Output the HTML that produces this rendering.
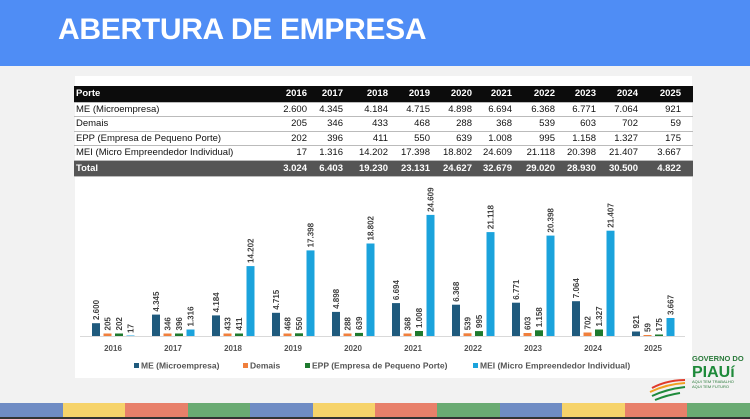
<!DOCTYPE html>
<html><head><meta charset="utf-8"><style>
*{margin:0;padding:0;box-sizing:border-box}
body{width:750px;height:419px;overflow:hidden;background:#f2f2f2;font-family:"Liberation Sans",sans-serif;position:relative}
#hdr{position:absolute;left:0;top:0;width:750px;height:66px;background:#4f8df5}
#hdr h1{position:absolute;left:58px;top:13px;color:#fff;font-size:30px;font-weight:bold;letter-spacing:-0.3px}
#panel{position:absolute;left:75px;top:76px;width:617px;height:302px;background:#fff}
table{position:absolute;left:74px;top:86px;width:619px;border-collapse:collapse;font-size:9.5px;color:#111;table-layout:fixed}
td{height:14.5px;padding:0 2px;text-align:right;border-bottom:1px solid #bbb;white-space:nowrap;overflow:visible}
td:first-child{text-align:left}
td:last-child{padding-right:12px}
tr.h td{background:#0c0c0c;color:#fff;font-weight:bold;height:16px}
tr.t td{background:#555;color:#fff;font-weight:bold;height:16px}
svg{position:absolute;left:0;top:0}
</style></head><body>
<div id="hdr"><h1>ABERTURA DE EMPRESA</h1></div>
<div id="panel"></div>
<table>
<colgroup><col style="width:196px"><col style="width:39px"><col style="width:36px"><col style="width:45px"><col style="width:42px"><col style="width:42px"><col style="width:40px"><col style="width:43px"><col style="width:41px"><col style="width:42px"><col style="width:53px"></colgroup>
<tr class="h"><td>Porte</td><td>2016</td><td>2017</td><td>2018</td><td>2019</td><td>2020</td><td>2021</td><td>2022</td><td>2023</td><td>2024</td><td>2025</td></tr>
<tr><td>ME (Microempresa)</td><td>2.600</td><td>4.345</td><td>4.184</td><td>4.715</td><td>4.898</td><td>6.694</td><td>6.368</td><td>6.771</td><td>7.064</td><td>921</td></tr>
<tr><td>Demais</td><td>205</td><td>346</td><td>433</td><td>468</td><td>288</td><td>368</td><td>539</td><td>603</td><td>702</td><td>59</td></tr>
<tr><td>EPP (Empresa de Pequeno Porte)</td><td>202</td><td>396</td><td>411</td><td>550</td><td>639</td><td>1.008</td><td>995</td><td>1.158</td><td>1.327</td><td>175</td></tr>
<tr><td>MEI (Micro Empreendedor Individual)</td><td>17</td><td>1.316</td><td>14.202</td><td>17.398</td><td>18.802</td><td>24.609</td><td>21.118</td><td>20.398</td><td>21.407</td><td>3.667</td></tr>
<tr class="t"><td>Total</td><td>3.024</td><td>6.403</td><td>19.230</td><td>23.131</td><td>24.627</td><td>32.679</td><td>29.020</td><td>28.930</td><td>30.500</td><td>4.822</td></tr>
</table>
<svg width="750" height="419" font-family="Liberation Sans, sans-serif">
<line x1="80" y1="336.5" x2="685" y2="336.5" stroke="#d9d9d9"/>
<g font-size="8" font-weight="bold" fill="#404040">
<g transform="translate(113,0)">
<rect x="-21" y="323.2" width="8" height="12.8" fill="#1f5a7d"/><rect x="-9.5" y="333.5" width="8" height="2.5" fill="#f07f3c"/><rect x="2" y="333.5" width="8" height="2.5" fill="#1e7a2e"/><rect x="13.5" y="335.5" width="8" height="0.5" fill="#1ba3dc"/>
<text transform="translate(-14,320) rotate(-90)">2.600</text><text transform="translate(-2.5,330.5) rotate(-90)">205</text><text transform="translate(9,330.5) rotate(-90)">202</text><text transform="translate(20.5,333) rotate(-90)">17</text></g>
<g transform="translate(173,0)">
<rect x="-21" y="314.6" width="8" height="21.4" fill="#1f5a7d"/><rect x="-9.5" y="333.5" width="8" height="2.5" fill="#f07f3c"/><rect x="2" y="333.5" width="8" height="2.5" fill="#1e7a2e"/><rect x="13.5" y="329.5" width="8" height="6.5" fill="#1ba3dc"/>
<text transform="translate(-14,311.6) rotate(-90)">4.345</text><text transform="translate(-2.5,330.5) rotate(-90)">346</text><text transform="translate(9,330.5) rotate(-90)">396</text><text transform="translate(20.5,326.5) rotate(-90)">1.316</text></g>
<g transform="translate(233,0)">
<rect x="-21" y="315.4" width="8" height="20.6" fill="#1f5a7d"/><rect x="-9.5" y="333.5" width="8" height="2.5" fill="#f07f3c"/><rect x="2" y="333.5" width="8" height="2.5" fill="#1e7a2e"/><rect x="13.5" y="266.1" width="8" height="69.9" fill="#1ba3dc"/>
<text transform="translate(-14,312.4) rotate(-90)">4.184</text><text transform="translate(-2.5,330.5) rotate(-90)">433</text><text transform="translate(9,330.5) rotate(-90)">411</text><text transform="translate(20.5,263) rotate(-90)">14.202</text></g>
<g transform="translate(293,0)">
<rect x="-21" y="312.8" width="8" height="23.2" fill="#1f5a7d"/><rect x="-9.5" y="333.5" width="8" height="2.5" fill="#f07f3c"/><rect x="2" y="333.3" width="8" height="2.7" fill="#1e7a2e"/><rect x="13.5" y="250.4" width="8" height="85.6" fill="#1ba3dc"/>
<text transform="translate(-14,309.8) rotate(-90)">4.715</text><text transform="translate(-2.5,330.5) rotate(-90)">468</text><text transform="translate(9,330.3) rotate(-90)">550</text><text transform="translate(20.5,247.4) rotate(-90)">17.398</text></g>
<g transform="translate(353,0)">
<rect x="-21" y="311.9" width="8" height="24.1" fill="#1f5a7d"/><rect x="-9.5" y="333.5" width="8" height="2.5" fill="#f07f3c"/><rect x="2" y="332.9" width="8" height="3.1" fill="#1e7a2e"/><rect x="13.5" y="243.5" width="8" height="92.5" fill="#1ba3dc"/>
<text transform="translate(-14,308.9) rotate(-90)">4.898</text><text transform="translate(-2.5,330.5) rotate(-90)">288</text><text transform="translate(9,329.9) rotate(-90)">639</text><text transform="translate(20.5,240.5) rotate(-90)">18.802</text></g>
<g transform="translate(413,0)">
<rect x="-21" y="303.1" width="8" height="32.9" fill="#1f5a7d"/><rect x="-9.5" y="333.5" width="8" height="2.5" fill="#f07f3c"/><rect x="2" y="331" width="8" height="5" fill="#1e7a2e"/><rect x="13.5" y="214.9" width="8" height="121.1" fill="#1ba3dc"/>
<text transform="translate(-14,300.1) rotate(-90)">6.694</text><text transform="translate(-2.5,330.5) rotate(-90)">368</text><text transform="translate(9,328) rotate(-90)">1.008</text><text transform="translate(20.5,211.9) rotate(-90)">24.609</text></g>
<g transform="translate(473,0)">
<rect x="-21" y="304.7" width="8" height="31.3" fill="#1f5a7d"/><rect x="-9.5" y="333.3" width="8" height="2.7" fill="#f07f3c"/><rect x="2" y="331.1" width="8" height="4.9" fill="#1e7a2e"/><rect x="13.5" y="232.1" width="8" height="103.9" fill="#1ba3dc"/>
<text transform="translate(-14,301.7) rotate(-90)">6.368</text><text transform="translate(-2.5,330.3) rotate(-90)">539</text><text transform="translate(9,328.1) rotate(-90)">995</text><text transform="translate(20.5,229.1) rotate(-90)">21.118</text></g>
<g transform="translate(533,0)">
<rect x="-21" y="302.7" width="8" height="33.3" fill="#1f5a7d"/><rect x="-9.5" y="333" width="8" height="3" fill="#f07f3c"/><rect x="2" y="330.3" width="8" height="5.7" fill="#1e7a2e"/><rect x="13.5" y="235.6" width="8" height="100.4" fill="#1ba3dc"/>
<text transform="translate(-14,299.7) rotate(-90)">6.771</text><text transform="translate(-2.5,330) rotate(-90)">603</text><text transform="translate(9,327.3) rotate(-90)">1.158</text><text transform="translate(20.5,232.6) rotate(-90)">20.398</text></g>
<g transform="translate(593,0)">
<rect x="-21" y="301.2" width="8" height="34.8" fill="#1f5a7d"/><rect x="-9.5" y="332.5" width="8" height="3.5" fill="#f07f3c"/><rect x="2" y="329.5" width="8" height="6.5" fill="#1e7a2e"/><rect x="13.5" y="230.7" width="8" height="105.3" fill="#1ba3dc"/>
<text transform="translate(-14,298.2) rotate(-90)">7.064</text><text transform="translate(-2.5,329.5) rotate(-90)">702</text><text transform="translate(9,326.5) rotate(-90)">1.327</text><text transform="translate(20.5,227.7) rotate(-90)">21.407</text></g>
<g transform="translate(653,0)">
<rect x="-21" y="331.5" width="8" height="4.5" fill="#1f5a7d"/><rect x="-9.5" y="335" width="8" height="1" fill="#f07f3c"/><rect x="2" y="334.5" width="8" height="1.5" fill="#1e7a2e"/><rect x="13.5" y="318" width="8" height="18" fill="#1ba3dc"/>
<text transform="translate(-14,328.5) rotate(-90)">921</text><text transform="translate(-2.5,332) rotate(-90)">59</text><text transform="translate(9,331.5) rotate(-90)">175</text><text transform="translate(20.5,315) rotate(-90)">3.667</text></g>
</g>
<g font-size="8" font-weight="bold" fill="#555" text-anchor="middle">
<text x="113" y="351">2016</text><text x="173" y="351">2017</text><text x="233" y="351">2018</text><text x="293" y="351">2019</text><text x="353" y="351">2020</text><text x="413" y="351">2021</text><text x="473" y="351">2022</text><text x="533" y="351">2023</text><text x="593" y="351">2024</text><text x="653" y="351">2025</text>
</g>
<g font-size="8.5" font-weight="bold" fill="#555">
<rect x="134" y="363" width="5" height="5" fill="#1f5a7d"/><text x="141" y="368.5">ME (Microempresa)</text>
<rect x="243" y="363" width="5" height="5" fill="#f07f3c"/><text x="250" y="368.5">Demais</text>
<rect x="305" y="363" width="5" height="5" fill="#1e7a2e"/><text x="312" y="368.5">EPP (Empresa de Pequeno Porte)</text>
<rect x="473" y="363" width="5" height="5" fill="#1ba3dc"/><text x="480" y="368.5">MEI (Micro Empreendedor Individual)</text>
</g>
<g>
<text x="692" y="361" font-size="7.5" font-weight="bold" fill="#2a7a3a">GOVERNO DO</text>
<text x="692" y="377" font-size="16" font-weight="bold" fill="#1e8a3a">PIAUí</text>
<text x="692" y="383" font-size="4" fill="#2a7a3a">AQUI TEM TRABALHO</text>
<text x="692" y="388" font-size="4" fill="#2a7a3a">AQUI TEM FUTURO</text>
<path d="M652 388 q15 -8 33 -8" stroke="#e03a2a" stroke-width="2" fill="none"/>
<path d="M650 392 q17 -8 35 -9" stroke="#f0a020" stroke-width="2" fill="none"/>
<path d="M652 396 q15 -7 33 -9" stroke="#1e8a3a" stroke-width="2" fill="none"/>
<path d="M655 400 q12 -5 25 -7" stroke="#1e8a3a" stroke-width="2" fill="none"/>
</g>
<g>
<rect x="0" y="403" width="63" height="16" fill="#6f8cc4"/>
<rect x="63" y="403" width="62" height="16" fill="#f6d36a"/>
<rect x="125" y="403" width="63" height="16" fill="#e8806a"/>
<rect x="188" y="403" width="62" height="16" fill="#6aab73"/>
<rect x="250" y="403" width="63" height="16" fill="#6f8cc4"/>
<rect x="313" y="403" width="62" height="16" fill="#f6d36a"/>
<rect x="375" y="403" width="62" height="16" fill="#e8806a"/>
<rect x="437" y="403" width="63" height="16" fill="#6aab73"/>
<rect x="500" y="403" width="62" height="16" fill="#6f8cc4"/>
<rect x="562" y="403" width="63" height="16" fill="#f6d36a"/>
<rect x="625" y="403" width="62" height="16" fill="#e8806a"/>
<rect x="687" y="403" width="63" height="16" fill="#6aab73"/>
<rect x="0" y="417" width="750" height="2" fill="#333"/>
</g>
</svg>
</body></html>
